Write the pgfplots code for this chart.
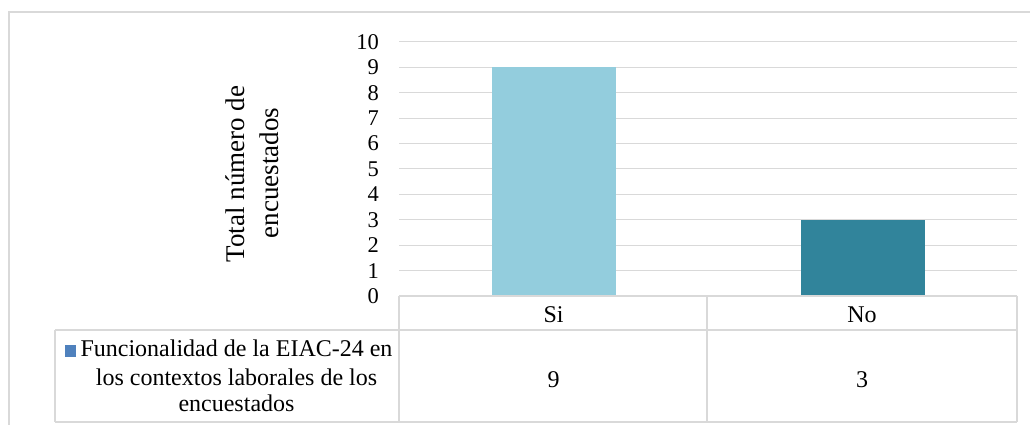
\documentclass[border=0pt]{standalone}
\usepackage{pgfplots}
\pgfplotsset{compat=1.18}
\usepackage{fontspec}
\setmainfont{Liberation Serif}
\definecolor{gridC}{HTML}{D9D9D9}
\definecolor{siC}{HTML}{93CDDD}
\definecolor{noC}{HTML}{31849B}
\definecolor{legC}{HTML}{4F81BD}
\newcommand{\cf}{\fontsize{24}{28}\selectfont}
\newcommand{\tf}{\fontsize{22.5}{27}\selectfont}
\newcommand{\yf}{\fontsize{27}{32}\selectfont}
\begin{document}
\begin{tikzpicture}[x=1pt,y=1pt]
\useasboundingbox (0,0) rectangle (1030,425);
% outer chart frame
\draw[gridC, line width=1.2pt] (9,0) -- (9,413) -- (1031,413);
\begin{axis}[
  at={(399pt,129pt)}, anchor=south west,
  scale only axis, width=618pt, height=254pt,
  xmin=-0.5, xmax=1.5, ymin=0, ymax=10,
  axis line style={draw=none},
  xtick=\empty,
  ytick={0,1,...,10},
  major tick length=0pt,
  ymajorgrids,
  grid style={draw=gridC, line width=1pt},
  /pgf/number format/assume math mode=true,
  yticklabel style={font=\tf, anchor=east, inner sep=0pt, xshift=-20pt},
  clip=false,
]
\addplot[ybar, bar width=124pt, bar shift=0pt, fill=siC, draw=none] coordinates {(0,9)};
\addplot[ybar, bar width=124pt, bar shift=0pt, fill=noC, draw=none] coordinates {(1,3)};
\end{axis}
% data table
\draw[gridC, line width=1.2pt] (399,129) -- (1017,129);
\draw[gridC, line width=1.2pt] (55,95) -- (1017,95);
\draw[gridC, line width=1.2pt] (55,3) -- (1017,3);
\draw[gridC, line width=1.2pt] (55,95) -- (55,3);
\draw[gridC, line width=1.2pt] (399,129) -- (399,3);
\draw[gridC, line width=1.2pt] (707,129) -- (707,3);
\draw[gridC, line width=1.2pt] (1017,129) -- (1017,3);
\node[anchor=base, font=\cf, inner sep=0pt] at (553.5,102) {Si};
\node[anchor=base, font=\cf, inner sep=0pt] at (862,102) {No};
\node[anchor=base, font=\cf, inner sep=0pt] at (553.5,37) {9};
\node[anchor=base, font=\cf, inner sep=0pt] at (862,37) {3};
% legend key and text
\fill[legC] (65,68) rectangle (76,80);
\node[anchor=base, font=\cf, inner sep=0pt] at (236.5,68) {Funcionalidad de la EIAC-24 en};
\node[anchor=base, font=\cf, inner sep=0pt] at (236.5,39.5) {los contextos laborales de los};
\node[anchor=base, font=\cf, inner sep=0pt] at (236.5,13) {encuestados};
% y-axis title
\node[anchor=base, rotate=90, font=\yf, inner sep=0pt] at (244,251) {Total número de};
\node[anchor=base, rotate=90, font=\yf, inner sep=0pt] at (278,252) {encuestados};
\end{tikzpicture}
\end{document}
